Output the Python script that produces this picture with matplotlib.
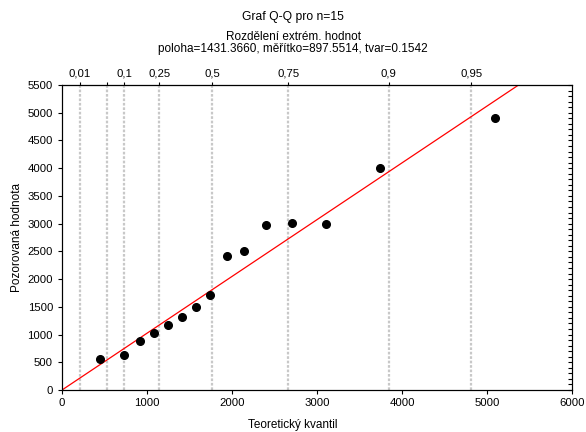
import numpy as np
import matplotlib
matplotlib.use("Agg")
import matplotlib.pyplot as plt

plt.rcParams['font.family'] = ['Liberation Sans', 'DejaVu Sans']

teor = [451, 733, 918, 1086, 1247, 1415, 1576, 1745, 1937, 2145, 2404, 2709, 3110, 3745, 5090]
pozor = [560, 630, 880, 1030, 1170, 1310, 1490, 1710, 2420, 2500, 2970, 3010, 3000, 4010, 4910]

# probability marks on top axis
prob_pos = [210, 525, 729, 1146, 1769, 2664, 3846, 4813]
prob_lab = ["0,01", "", "0,1", "0,25", "0,5", "0,75", "0,9", "0,95"]

line_slope = 1.024
line_icpt = 0

fig = plt.figure(figsize=(5.86, 4.32), dpi=100)
ax = fig.add_axes([0.1058, 0.0972, 0.8703, 0.706])

for p in prob_pos:
    ax.axvline(p, color="#c8c8c8", lw=1.6, ls=(0, (1.2, 0.8)), zorder=1)

xx = np.array([0, 6000])
ax.plot(xx, line_icpt + line_slope * xx, color="red", lw=0.9, zorder=2)
ax.plot(teor, pozor, "o", color="black", ms=5.5, zorder=3)

ax.set_xlim(0, 6000)
ax.set_ylim(0, 5500)
ax.set_xticks(np.arange(0, 6001, 1000))
ax.set_yticks(np.arange(0, 5501, 500))
ax.tick_params(axis="both", labelsize=8.2, length=3, width=0.8, direction="out")
ax.tick_params(axis="x", pad=3)
ax.spines["top"].set_color("#808080")
ax.spines["right"].set_color("#404040")

fig.text(0.5, 0.016, "Teoretický kvantil", ha="center", va="center", fontsize=8.5)
fig.text(0.029, 0.45, "Pozorovaná hodnota", ha="center", va="center", rotation=90, fontsize=8.5)

# right side minor ticks
axr = ax.twinx()
axr.set_ylim(0, 5500)
axr.set_yticks(np.arange(0, 5501, 100))
axr.tick_params(axis="y", direction="in", length=3, width=0.8, labelright=False)

# top probability axis
top = ax.secondary_xaxis("top")
top.set_xticks(prob_pos)
top.set_xticklabels(prob_lab)
top.tick_params(axis="x", labelsize=8.2, length=2, width=0.8, pad=3)

fig.text(0.5, 0.961, "Graf Q-Q pro n=15", ha="center", va="center", fontsize=8.7)
fig.text(0.5, 0.914, "Rozdělení extrém. hodnot", ha="center", va="center", fontsize=8.5)
fig.text(0.5, 0.886, "poloha=1431.3660, měřítko=897.5514, tvar=0.1542", ha="center", va="center", fontsize=8.5)

fig.savefig("out.png", dpi=100)
